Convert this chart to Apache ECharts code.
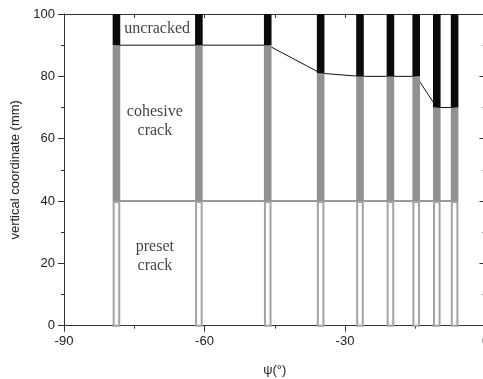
<!DOCTYPE html>
<html>
<head>
<meta charset="utf-8">
<script src="https://cdn.jsdelivr.net/npm/echarts@6/dist/echarts.min.js"></script>
<style>
html,body{margin:0;padding:0;background:#fff;}
#c{width:483px;height:379px;}
</style>
</head>
<body>
<div id="c"></div>
<script>
// Data
var psi = [-78.8, -61.2, -46.5, -35.2, -26.8, -20.3, -14.8, -10.4, -6.6];
var crackTip = [90, 90, 90, 81, 80, 80, 80, 70, 70];
var presetTop = 40;
var specimenTop = 100;
var xTicks = [-90, -60, -30, 0];
var yTicks = [0, 20, 40, 60, 80, 100];
var labels = [
  {text: 'uncracked', x: -70.1, y: 95.2},
  {text: 'cohesive\ncrack', x: -70.6, y: 65.7},
  {text: 'preset\ncrack', x: -70.6, y: 22.2}
];

var barData = psi.map(function (p, i) { return [p, crackTip[i]]; });
var tipLine = psi.map(function (p, i) { return [p, crackTip[i]]; });
var presetLine = [[psi[0], presetTop], [psi[psi.length - 1], presetTop]];

var chart = echarts.init(document.getElementById('c'), null, {renderer: 'canvas'});
var axisColor = '#333';
var labelFont = {fontFamily: 'Liberation Sans, Arial', fontSize: 13, color: '#222'};

var option = {
  backgroundColor: '#fff',
  animation: false,
  grid: {left: 64, top: 14, width: 421.5, height: 311.7, containLabel: false, outerBoundsMode: 'none'},
  xAxis: [{
    type: 'value', position: 'bottom', min: xTicks[0], max: xTicks[xTicks.length - 1], interval: 30,
    name: 'ψ(°)', nameLocation: 'middle', nameGap: 38,
    nameTextStyle: {fontFamily: 'Liberation Sans, Arial', fontSize: 13, color: '#222'},
    axisLine: {show: true, onZero: false, lineStyle: {color: axisColor, width: 1}},
    axisTick: {show: true, inside: false, length: 6, lineStyle: {color: axisColor}},
    minorTick: {show: true, splitNumber: 2, length: 3, lineStyle: {color: axisColor}},
    axisLabel: Object.assign({margin: 9}, labelFont),
    splitLine: {show: false}
  }, {
    type: 'value', position: 'top', min: xTicks[0], max: xTicks[xTicks.length - 1], interval: 30,
    axisLine: {show: true, onZero: false, lineStyle: {color: axisColor, width: 1}},
    axisTick: {show: true, inside: true, length: 4, lineStyle: {color: axisColor}},
    minorTick: {show: true, splitNumber: 2, length: 4, lineStyle: {color: axisColor}},
    axisLabel: {show: false},
    splitLine: {show: false}
  }],
  yAxis: [{
    type: 'value', position: 'left', min: yTicks[0], max: yTicks[yTicks.length - 1], interval: 20,
    name: 'vertical coordinate (mm)', nameLocation: 'middle', nameGap: 37,
    nameTextStyle: {fontFamily: 'Liberation Sans, Arial', fontSize: 13, color: '#222'},
    axisLine: {show: true, onZero: false, lineStyle: {color: axisColor, width: 1}},
    axisTick: {show: true, inside: false, length: 6, lineStyle: {color: axisColor}},
    minorTick: {show: true, splitNumber: 2, length: 3, lineStyle: {color: axisColor}},
    axisLabel: Object.assign({margin: 9}, labelFont),
    splitLine: {show: false}
  }, {
    type: 'value', position: 'right', min: yTicks[0], max: yTicks[yTicks.length - 1], interval: 20,
    axisLine: {show: true, onZero: false, lineStyle: {color: axisColor, width: 1}},
    axisTick: {show: true, inside: true, length: 6, lineStyle: {color: axisColor}},
    minorTick: {show: true, splitNumber: 2, length: 3, lineStyle: {color: axisColor}},
    axisLabel: {show: false},
    splitLine: {show: false}
  }],
  series: [{
    type: 'line', data: tipLine, symbol: 'none', z: 1,
    lineStyle: {color: '#111', width: 1}
  }, {
    type: 'line', data: presetLine, symbol: 'none', z: 1,
    lineStyle: {color: '#333', width: 1}
  }, {
    type: 'custom', z: 3,
    data: barData,
    renderItem: function (params, api) {
      var x = api.value(0), tip = api.value(1);
      var p0 = api.coord([x, 0]);
      var p40 = api.coord([x, presetTop]);
      var pt = api.coord([x, tip]);
      var p100 = api.coord([x, specimenTop]);
      var w = 7.6;
      var left = p0[0] - w / 2;
      return {
        type: 'group',
        children: [{
          type: 'rect',
          shape: {x: left + 1, y: p40[1] + 1, width: w - 2, height: p0[1] - p40[1] - 1},
          style: {fill: '#fff', stroke: '#a3a3a3', lineWidth: 2}
        }, {
          type: 'rect',
          shape: {x: left, y: pt[1], width: w, height: p40[1] - pt[1]},
          style: {fill: '#919191'}
        }, {
          type: 'rect',
          shape: {x: left, y: p100[1], width: w, height: pt[1] - p100[1]},
          style: {fill: '#0a0a0a'}
        }]
      };
    }
  }, {
    type: 'scatter', z: 5, symbolSize: 0,
    data: labels.map(function (l) { return {value: [l.x, l.y], name: l.text}; }),
    label: {
      show: true, position: 'inside',
      formatter: function (p) { return p.name; },
      fontFamily: 'Liberation Serif, Times New Roman', fontSize: 16, color: '#111',
      lineHeight: 19, align: 'center', verticalAlign: 'middle'
    },
    silent: true
  }]
};
chart.setOption(option);
</script>
</body>
</html>
